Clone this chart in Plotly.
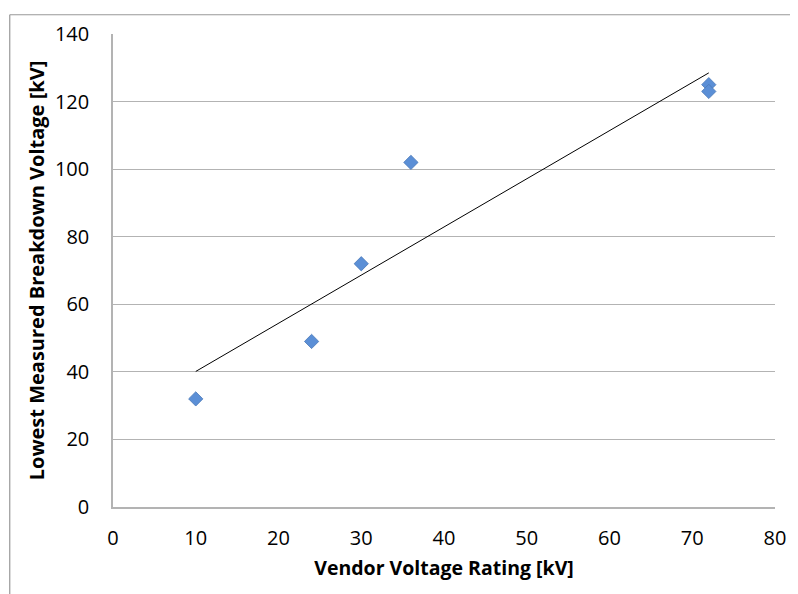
import numpy as np
import plotly.graph_objects as go

# Data
vendor_rating_kv = [10, 24, 30, 36, 72, 72]
lowest_breakdown_kv = [32, 49, 72, 102, 125, 123]
x_ticks = [0, 10, 20, 30, 40, 50, 60, 70, 80]
y_ticks = [0, 20, 40, 60, 80, 100, 120, 140]

# Linear trendline (least squares) over the data range
slope, intercept = np.polyfit(vendor_rating_kv, lowest_breakdown_kv, 1)
trend_x = [min(vendor_rating_kv), max(vendor_rating_kv)]
trend_y = [slope * v + intercept for v in trend_x]

W, H = 790, 586
ml, mr, mt, mb = 105, 15, 20, 87
pw, ph = W - ml - mr, H - mt - mb

fig = go.Figure()
fig.add_trace(go.Scatter(
    x=trend_x, y=trend_y, mode="lines",
    line=dict(color="black", width=1), hoverinfo="skip", showlegend=False))
fig.add_trace(go.Scatter(
    x=vendor_rating_kv, y=lowest_breakdown_kv, mode="markers",
    marker=dict(symbol="diamond", size=11, color="#5b8fd6",
                line=dict(color="#4a78b8", width=0.8)),
    showlegend=False))

font_family = "Open Sans, Liberation Sans, sans-serif"

fig.update_layout(
    width=W, height=H,
    margin=dict(l=ml, r=mr, t=mt, b=mb),
    paper_bgcolor="white", plot_bgcolor="white",
    font=dict(family=font_family, size=20, color="black"),
    xaxis=dict(
        range=[0, 80], tickvals=x_ticks, showgrid=False, zeroline=False,
        showline=True, linecolor="#b3b3b3", linewidth=1.5,
        ticks="", ticklabelstandoff=12,
        tickfont=dict(size=20),
        title=dict(text="<b>Vendor Voltage Rating [kV]</b>", font=dict(size=19.5), standoff=12),
    ),
    yaxis=dict(
        range=[0, 140], tickvals=y_ticks, showgrid=True, gridcolor="#b3b3b3",
        gridwidth=1.2, zeroline=False,
        showline=True, linecolor="#b3b3b3", linewidth=1.5,
        ticks="", ticklabelstandoff=18,
        tickfont=dict(size=20),
        title=dict(text="<b>Lowest Measured Breakdown Voltage [kV]</b>", font=dict(size=20), standoff=5),
    ),
    shapes=[
        dict(type="line", xref="paper", yref="paper",
             x0=(0.5 - ml) / pw, x1=(0.5 - ml) / pw,
             y0=(H - mb - 0.5) / ph, y1=(H - mb - H - 2) / ph,
             line=dict(color="#999999", width=1.2)),
        dict(type="line", xref="paper", yref="paper",
             x0=(0.5 - ml) / pw, x1=(W + 2 - ml) / pw,
             y0=(H - mb - 0.5) / ph, y1=(H - mb - 0.5) / ph,
             line=dict(color="#999999", width=1.2)),
    ],
)

fig.write_html("out.html")
